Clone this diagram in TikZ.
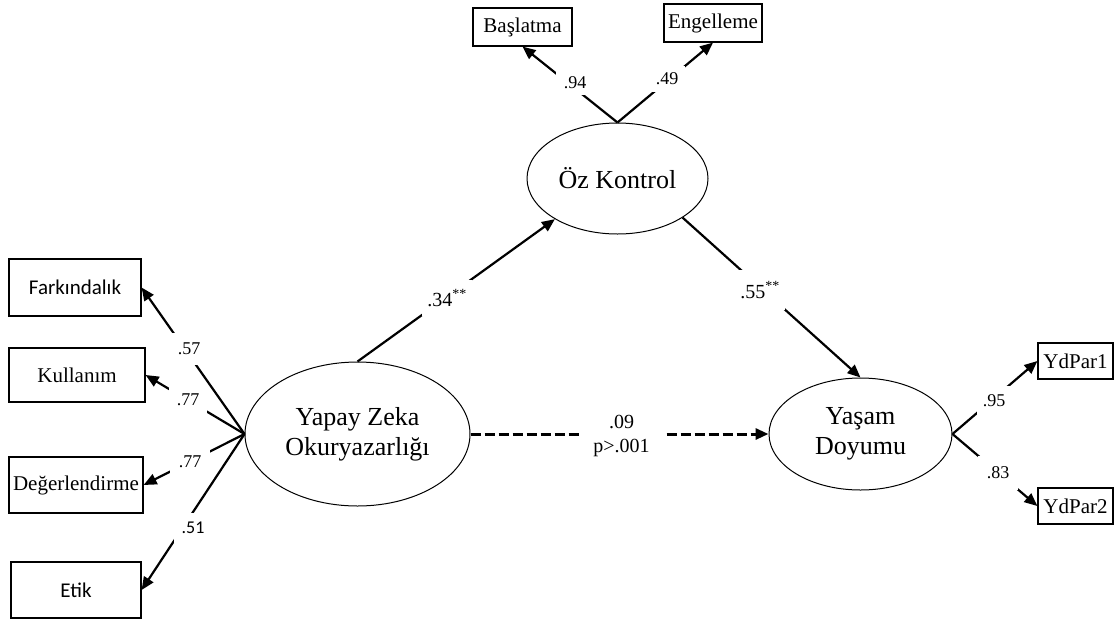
\documentclass[tikz,border=0pt]{standalone}
\usepackage{fontspec}
\setmainfont{Liberation Serif}
\newfontfamily\calfont{Carlito}
\usetikzlibrary{shapes.geometric,arrows.meta}
\begin{document}
\begin{tikzpicture}[x=1pt,y=-1pt,
  box/.style={draw,line width=1.2pt,rectangle,inner sep=0pt,font=\fontsize{21}{25}\selectfont},
  lat/.style={draw,line width=1pt,ellipse,inner sep=0pt,align=center,font=\fontsize{26}{30}\selectfont},
  pathar/.style={line width=2.2pt,-{Triangle[length=13pt,width=11pt]}},
  dpathar/.style={line width=3pt,dash pattern=on 10pt off 4pt,-{Triangle[length=13pt,width=11pt]}},
  lbl/.style={fill=white,inner sep=0pt,font=\fontsize{18}{21}\selectfont},
  coef/.style={fill=white,inner sep=0pt,align=center,font=\fontsize{20}{24}\selectfont}
]
\useasboundingbox (0,0) rectangle (1114,622);

% observed indicators
\node[box,minimum width=132pt,minimum height=57pt] (far) at (75,287.5) {\calfont Farkındalık};
\node[box,minimum width=136pt,minimum height=54pt] (kul) at (77,375) {Kullanım};
\node[box,minimum width=134pt,minimum height=56pt] (deg) at (76,485) {Değerlendirme};
\node[box,minimum width=130pt,minimum height=56pt] (etik) at (76,590) {\calfont Etik};
\node[box,minimum width=99pt,minimum height=38pt] (bas) at (522.5,27) {Başlatma};
\node[box,minimum width=98pt,minimum height=38pt] (eng) at (713,23) {Engelleme};
\node[box,minimum width=75pt,minimum height=36pt] (yd1) at (1075.5,361) {YdPar1};
\node[box,minimum width=75pt,minimum height=36pt] (yd2) at (1075.5,506) {YdPar2};

% latent variables
\node[lat,minimum width=225pt,minimum height=144pt] (yz) at (357.5,434) {Yapay Zeka\\Okuryazarlığı};
\node[lat,minimum width=181pt,minimum height=111pt] (oz) at (617.5,178.5) {Öz Kontrol};
\node[lat,minimum width=183pt,minimum height=112pt] (yd) at (860.5,434) {Yaşam\\Doyumu};

% loadings
\draw[pathar] (yz.west) -- (far.east);
\draw[pathar] (yz.west) -- (kul.east);
\draw[pathar] (yz.west) -- (deg.east);
\draw[pathar] (yz.west) -- (etik.east);
\draw[pathar] (oz.north) -- (bas.south);
\draw[pathar] (oz.north) -- (eng.south);
\draw[pathar] (yd.east) -- (yd1.west);
\draw[pathar] (yd.east) -- (yd2.west);

% structural paths
\draw[pathar] (yz.north) -- (oz.213);
\draw[pathar] (oz.329) -- (yd.north);
\draw[dpathar] (yz.east) -- (yd.west);

% labels
\node[lbl,minimum width=36pt,minimum height=32pt] (l57) at (189,349) {.57};
\node[lbl,minimum width=38pt,minimum height=26pt] (l77a) at (188,400) {.77};
\node[lbl,minimum width=40pt,minimum height=26pt] (l77b) at (190,462) {.77};
\node[lbl,minimum width=38pt,minimum height=30pt] (l51) at (193,528) {\calfont .51};
\node[lbl,minimum width=38pt,minimum height=24pt] (l94) at (575,83) {.94};
\node[lbl,minimum width=36pt,minimum height=26pt] (l49) at (667,79) {.49};
\node[lbl,minimum width=34pt,minimum height=30pt] (l95) at (994,401) {.95};
\node[lbl,minimum width=40pt,minimum height=34pt] (l83) at (998,473) {.83};
\node[coef,minimum width=50pt,minimum height=36pt] (l34) at (447,298) {.34\textsuperscript{**}};
\node[coef,minimum width=50pt,minimum height=40pt] (l55) at (760,290) {.55\textsuperscript{**}};
\node[coef,minimum width=83pt] (l09) at (621.5,436) {.09\\p>.001};
\end{tikzpicture}
\end{document}
